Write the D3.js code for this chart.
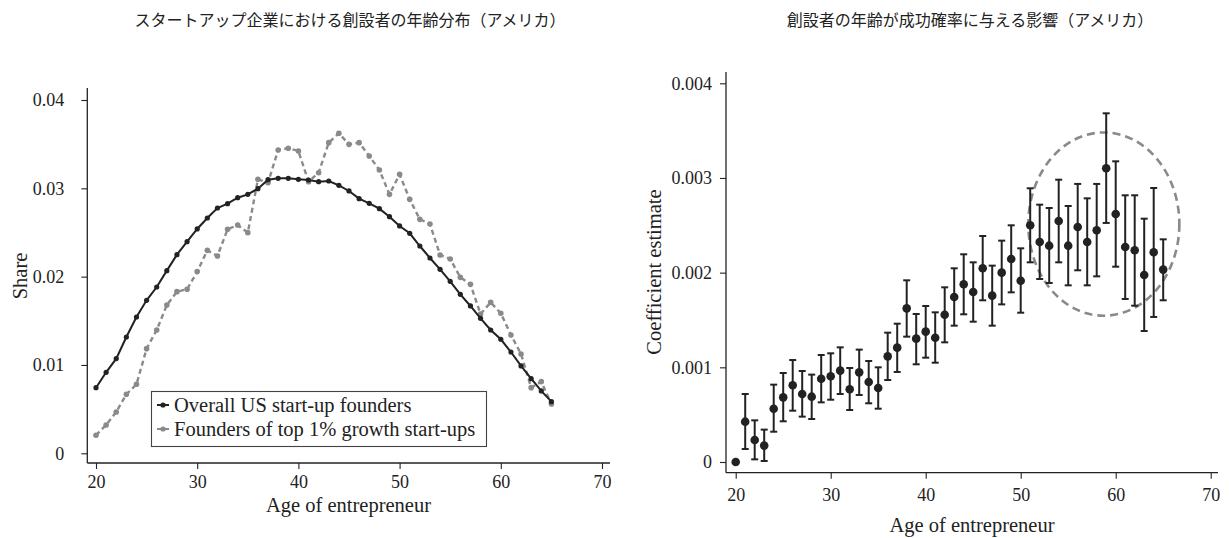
<!DOCTYPE html>
<html><head><meta charset="utf-8">
<script src="https://cdn.jsdelivr.net/npm/d3@7"></script>
<style>
html,body{margin:0;padding:0;background:#fff;}
svg{display:block;}
text{font-family:"Liberation Serif","DejaVu Serif",serif;fill:#222;}
.title{font-family:"Noto Sans CJK JP",sans-serif;}
</style></head>
<body>
<script>
// ---------- Data ----------
const ages = d3.range(20, 66);
const overallShare = [0.00743,0.00917,0.01072,0.01317,0.01543,0.01732,0.01883,0.02068,0.02249,0.02396,
  0.02540,0.02664,0.02777,0.02826,0.02894,0.02932,0.02996,0.03098,0.03113,0.03113,
  0.03102,0.03094,0.03075,0.03083,0.03034,0.02970,0.02883,0.02830,0.02770,0.02679,
  0.02574,0.02491,0.02347,0.02211,0.02083,0.01947,0.01800,0.01668,0.01528,0.01396,
  0.01291,0.01147,0.00989,0.00845,0.00706,0.00585];
const topShare = [0.00204,0.00321,0.00468,0.00668,0.00781,0.01185,0.01396,0.01679,0.01830,0.01857,
  0.02057,0.02298,0.02234,0.02536,0.02585,0.02498,0.03102,0.03064,0.03434,0.03453,
  0.03423,0.03075,0.03177,0.03517,0.03623,0.03498,0.03517,0.03366,0.03208,0.02932,
  0.03158,0.02875,0.02649,0.02596,0.02245,0.02200,0.01992,0.01913,0.01577,0.01709,
  0.01585,0.01340,0.01125,0.00743,0.00811,0.00558];
const coef = [0,0.000426,0.000232,0.000173,0.000563,0.000683,0.000810,0.000718,0.000690,0.000880,
  0.000905,0.000965,0.000768,0.000947,0.000845,0.000782,0.001116,0.001208,0.001623,0.001303,
  0.001377,0.001313,0.001556,0.001743,0.001877,0.001796,0.002046,0.001757,0.002000,0.002144,
  0.001915,0.002500,0.002324,0.002285,0.002546,0.002285,0.002482,0.002324,0.002447,0.003102,
  0.002620,0.002271,0.002236,0.001975,0.002215,0.002032];
const coefHi = [0,0.000718,0.000440,0.000342,0.000817,0.000940,0.001077,0.000961,0.000923,0.001130,
  0.001148,0.001211,0.000993,0.001187,0.001067,0.001000,0.001366,0.001461,0.001919,0.001563,
  0.001648,0.001581,0.001845,0.002046,0.002194,0.002109,0.002387,0.002074,0.002338,0.002500,
  0.002257,0.002891,0.002718,0.002683,0.002982,0.002704,0.002937,0.002785,0.002937,0.003683,
  0.003176,0.002817,0.002817,0.002570,0.002894,0.002352];
const coefLo = [0,0.000137,0.000028,0.000011,0.000320,0.000430,0.000542,0.000479,0.000454,0.000630,
  0.000658,0.000718,0.000549,0.000708,0.000620,0.000563,0.000866,0.000951,0.001324,0.001032,
  0.001102,0.001049,0.001264,0.001440,0.001560,0.001482,0.001708,0.001440,0.001665,0.001792,
  0.001577,0.002109,0.001933,0.001891,0.002109,0.001866,0.002025,0.001866,0.001961,0.002525,
  0.002063,0.001722,0.001651,0.001384,0.001532,0.001708];
const xTicks = [20,30,40,50,60,70];
const leftYTicks = [0,0.01,0.02,0.03,0.04];
const leftYLabels = ["0","0.01","0.02","0.03","0.04"];
const rightYTicks = [0,0.001,0.002,0.003,0.004];
const rightYLabels = ["0","0.001","0.002","0.003","0.004"];
const seriesNames = ["Overall US start-up founders","Founders of top 1% growth start-ups"];
const titles = ["スタートアップ企業における創設者の年齢分布（アメリカ）","創設者の年齢が成功確率に与える影響（アメリカ）"];
const xLabel = "Age of entrepreneur";
const yLabels = ["Share","Coefficient estimate"];
// highlighted region (center age, center value, half-width years, half-height value)
const highlight = {age:58.75, value:0.002513, dAge:7.95, dValue:0.000968};

// ---------- Layout ----------
const W = 1230, H = 538;
const svg = d3.select("body").append("svg").attr("width", W).attr("height", H);
const ink = "#222", gray = "#8a8a8a";
const serif = '"Liberation Serif","DejaVu Serif",serif';

function drawAxes(g, x, y, yTicks, yLabels, opt){
  g.append("line").attr("x1", opt.axX).attr("x2", opt.axX).attr("y1", opt.yTop).attr("y2", opt.axY)
    .attr("stroke", ink).attr("stroke-width", 1.3);
  g.append("line").attr("x1", opt.axX).attr("x2", opt.xRight).attr("y1", opt.axY).attr("y2", opt.axY)
    .attr("stroke", ink).attr("stroke-width", 1.3);
  const xa = g.append("g").attr("transform", `translate(0,${opt.axY})`)
    .call(d3.axisBottom(x).tickValues(xTicks).tickFormat(d3.format("d")).tickSize(6).tickSizeOuter(0).tickPadding(opt.xPad));
  xa.attr("font-family", serif).attr("font-size", 18);
  xa.select(".domain").remove();
  xa.selectAll("line").attr("stroke", ink).attr("stroke-width", 1.1);
  xa.selectAll("text").attr("fill", ink);
  const ya = g.append("g").attr("transform", `translate(${opt.axX},0)`)
    .call(d3.axisLeft(y).tickValues(yTicks).tickFormat((d,i)=>yLabels[i]).tickSize(6).tickSizeOuter(0).tickPadding(opt.yPad));
  ya.attr("font-family", serif).attr("font-size", 18);
  ya.select(".domain").remove();
  ya.selectAll("line").attr("stroke", ink).attr("stroke-width", 1.1);
  ya.selectAll("text").attr("fill", ink);
}

// ---------- Left chart ----------
{
  const g = svg.append("g");
  const x = d3.scaleLinear().domain([20,70]).range([96,602]);
  const y = d3.scaleLinear().domain([0,0.04]).range([453.3,100]);
  drawAxes(g, x, y, leftYTicks, leftYLabels, {axX:87.3, axY:463, yTop:88, xRight:610, xPad:6, yPad:17});

  const line = d3.line().x((d,i)=>x(ages[i])).y(d=>y(d));
  g.append("path").datum(topShare).attr("d", line).attr("fill","none")
    .attr("stroke", gray).attr("stroke-width", 2.4).attr("stroke-dasharray","5,3.5");
  g.selectAll(".tp").data(topShare).enter().append("circle")
    .attr("cx",(d,i)=>x(ages[i])).attr("cy",d=>y(d)).attr("r",2.8).attr("fill",gray);
  g.append("path").datum(overallShare).attr("d", line).attr("fill","none")
    .attr("stroke", ink).attr("stroke-width", 2);
  g.selectAll(".op").data(overallShare).enter().append("circle")
    .attr("cx",(d,i)=>x(ages[i])).attr("cy",d=>y(d)).attr("r",2.6).attr("fill",ink);

  const lg = g.append("g");
  lg.append("rect").attr("x",151.5).attr("y",391.5).attr("width",335).attr("height",55)
    .attr("fill","#fff").attr("stroke","#444").attr("stroke-width",1.1);
  const cols = [ink, gray];
  seriesNames.forEach((s,i)=>{
    const yy = 405 + i*24;
    lg.append("line").attr("x1",157).attr("x2",169).attr("y1",yy).attr("y2",yy)
      .attr("stroke",cols[i]).attr("stroke-width",2);
    lg.append("circle").attr("cx",163).attr("cy",yy).attr("r",2.6).attr("fill",cols[i]);
    lg.append("text").attr("x",174).attr("y",yy+7).attr("font-size",20.5).text(s);
  });

  g.append("text").attr("x",(87+610)/2).attr("y",512).attr("text-anchor","middle").attr("font-size",20.5).text(xLabel);
  g.append("text").attr("transform","translate(27,276) rotate(-90)").attr("text-anchor","middle").attr("font-size",20.5).text(yLabels[0]);
  g.append("text").attr("class","title").attr("x",350).attr("y",26).attr("text-anchor","middle").attr("font-size",16).text(titles[0]);
}

// ---------- Right chart ----------
{
  const g = svg.append("g");
  const x = d3.scaleLinear().domain([20,70]).range([735.7,1210.7]);
  const y = d3.scaleLinear().domain([0,0.004]).range([462,83.3]);
  drawAxes(g, x, y, rightYTicks, rightYLabels, {axX:726, axY:472.7, yTop:72, xRight:1218, xPad:10, yPad:8});

  g.append("ellipse")
    .attr("cx", x(highlight.age)).attr("cy", y(highlight.value))
    .attr("rx", x(highlight.age+highlight.dAge)-x(highlight.age))
    .attr("ry", y(highlight.value-highlight.dValue)-y(highlight.value))
    .attr("fill","none").attr("stroke",gray).attr("stroke-width",2.6).attr("stroke-dasharray","8,5");

  const eb = g.selectAll(".eb").data(ages.filter((a,i)=>coefHi[i]>coefLo[i])).enter().append("g");
  eb.each(function(a){
    const i = ages.indexOf(a);
    const s = d3.select(this);
    const cx = x(a);
    s.append("line").attr("x1",cx).attr("x2",cx).attr("y1",y(coefHi[i])).attr("y2",y(coefLo[i]))
      .attr("stroke",ink).attr("stroke-width",2);
    [coefHi[i], coefLo[i]].forEach(v=>{
      s.append("line").attr("x1",cx-3.5).attr("x2",cx+3.5).attr("y1",y(v)).attr("y2",y(v))
        .attr("stroke",ink).attr("stroke-width",2);
    });
  });
  g.selectAll(".cp").data(coef).enter().append("circle")
    .attr("cx",(d,i)=>x(ages[i])).attr("cy",d=>y(d)).attr("r",4.3).attr("fill",ink);

  g.append("text").attr("x",(726+1218)/2).attr("y",532).attr("text-anchor","middle").attr("font-size",20.5).text(xLabel);
  g.append("text").attr("transform","translate(661,272) rotate(-90)").attr("text-anchor","middle").attr("font-size",20.5).text(yLabels[1]);
  g.append("text").attr("class","title").attr("x",970).attr("y",26).attr("text-anchor","middle").attr("font-size",16).text(titles[1]);
}
</script>
</body></html>
